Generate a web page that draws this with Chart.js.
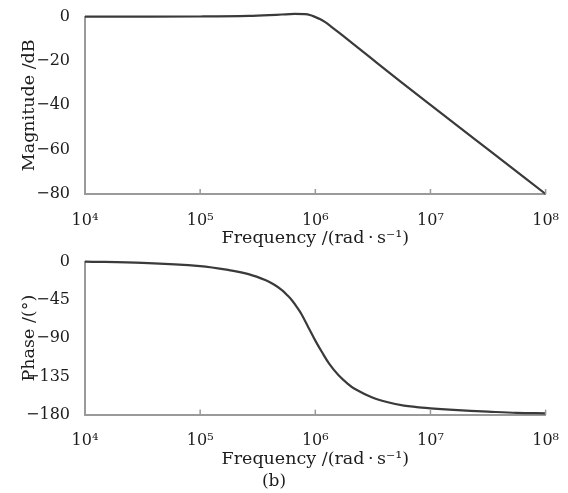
<!DOCTYPE html>
<html>
<head>
<meta charset="utf-8">
<script src="https://cdn.jsdelivr.net/npm/chart.js@4.4.0/dist/chart.umd.min.js"></script>
<style>
  body { margin: 0; background: #fff; }
  #wrap { position: relative; width: 568px; height: 493px; }
  canvas { position: absolute; left: 0; }
  #magCanvas { top: 0; }
  #phaseCanvas { top: 245px; }
</style>
</head>
<body>
<div id="wrap">
  <canvas id="magCanvas" width="568" height="248"></canvas>
  <canvas id="phaseCanvas" width="568" height="248"></canvas>
</div>
<script>
// magnitude curve, frequencies in rad/s and gain in dB
const magFreqs = [1e4, 3.16e4, 1e5, 2.63e5, 3.98e5, 5.13e5, 6.61e5, 8.13e5, 9.12e5, 1e6,
  1.096e6, 1.2e6, 1.38e6, 1.585e6, 1.905e6, 2.51e6, 3.47e6, 5.5e6, 1e7, 3.16e7, 1e8];
const magnitude = [0, 0, 0.05, 0.3, 0.65, 0.95, 1.2, 1.1, 0.6, -0.2,
  -1.1, -2.3, -4.6, -7.0, -10.3, -15.2, -21.1, -29.3, -39.8, -59.9, -80];

// phase curve, frequencies in rad/s and phase in degrees
const phaseFreqs = [1e4, 3.16e4, 1e5, 1.78e5, 2.63e5, 3.72e5, 4.37e5, 5.13e5, 5.75e5, 6.31e5,
  6.92e5, 7.59e5, 8.71e5, 1e6, 1.148e6, 1.318e6, 1.585e6, 1.905e6, 2.19e6, 3.09e6,
  4.27e6, 5.89e6, 1e7, 1.585e7, 3.16e7, 5.62e7, 1e8];
const phase = [0, -1.5, -5.3, -10, -14.8, -22, -27, -33.5, -40, -46,
  -53.5, -62, -77.5, -93, -107, -120, -133.5, -143.5, -149.5, -159.5,
  -165.5, -169.5, -172.6, -174.5, -176.5, -178, -178.5];

const xTickValues = [1e4, 1e5, 1e6, 1e7, 1e8];
const xTickLabels = ['10\u2074', '10\u2075', '10\u2076', '10\u2077', '10\u2078'];

const axisColor = '#9a9a9a';
const lineColor = '#3a3a3a';
const textColor = '#1c1c1c';
const fontFamily = "'DejaVu Serif', 'Liberation Serif', serif";

// small inward tick marks on the frequency axis
const innerTicks = {
  id: 'innerTicks',
  afterDraw(chart) {
    const ctx = chart.ctx;
    const x = chart.scales.x;
    const bottom = chart.chartArea.bottom;
    ctx.save();
    ctx.strokeStyle = axisColor;
    ctx.lineWidth = 1.5;
    x.ticks.forEach((t, i) => {
      const px = x.getPixelForTick(i);
      ctx.beginPath();
      ctx.moveTo(px, bottom);
      ctx.lineTo(px, bottom - 5);
      ctx.stroke();
    });
    ctx.restore();
  }
};

function minusSign(v) {
  return String(v).replace('-', '\u2212');
}

function buildChart(canvasId, freqs, values, yTitle, yMin, yStep, extra) {
  const ctx = document.getElementById(canvasId).getContext('2d');
  return new Chart(ctx, {
    type: 'line',
    data: {
      datasets: [{
        data: freqs.map((f, i) => ({x: f, y: values[i]})),
        borderColor: lineColor,
        borderWidth: 2.2,
        pointRadius: 0,
        cubicInterpolationMode: extra.smooth,
        tension: 0.35,
        clip: false,
        fill: false
      }]
    },
    options: {
      responsive: false,
      animation: false,
      layout: { padding: { top: extra.top, right: 20, bottom: 0, left: 0 } },
      plugins: {
        legend: { display: false },
        tooltip: { enabled: false },
        title: extra.caption ? {
          display: true,
          position: 'bottom',
          text: extra.caption,
          color: textColor,
          font: { family: fontFamily, size: 17, weight: 'normal', lineHeight: 1.2 },
          padding: { top: 3, bottom: 1 }
        } : { display: false }
      },
      scales: {
        x: {
          type: 'logarithmic',
          min: 1e4,
          max: 1e8,
          afterBuildTicks: scale => { scale.ticks = xTickValues.map(v => ({ value: v })); },
          afterFit: scale => { scale.height = 54; },
          grid: { display: false },
          border: { display: true, color: axisColor, width: 2 },
          ticks: {
            padding: 9,
            color: textColor,
            font: { family: fontFamily, size: 16 },
            maxRotation: 0,
            autoSkip: false,
            callback: v => xTickLabels[xTickValues.indexOf(v)]
          },
          title: {
            display: true,
            text: 'Frequency /(rad\u2009\u00b7\u2009s\u207b\u00b9)',
            color: textColor,
            font: { family: fontFamily, size: 17.5, lineHeight: 1.1 },
            padding: 0
          }
        },
        y: {
          min: yMin,
          max: 0,
          afterFit: scale => { scale.width = 85; },
          grid: { display: false },
          border: { display: true, color: axisColor, width: 2 },
          ticks: {
            stepSize: yStep,
            padding: 7,
            color: textColor,
            font: { family: fontFamily, size: 16 },
            callback: v => minusSign(v)
          },
          title: {
            display: true,
            text: yTitle,
            color: textColor,
            font: { family: fontFamily, size: 17.5, lineHeight: 1.2 },
            padding: { top: 19, bottom: 0 }
          }
        }
      }
    },
    plugins: [innerTicks]
  });
}

document.addEventListener('DOMContentLoaded', function() {
  buildChart('magCanvas', magFreqs, magnitude, 'Magnitude /dB', -80, 20,
    { top: 16, smooth: 'monotone' });
  buildChart('phaseCanvas', phaseFreqs, phase, 'Phase /(\u00b0)', -180, 45,
    { top: 11, smooth: 'default', caption: '(b)' });
});
</script>
</body>
</html>
